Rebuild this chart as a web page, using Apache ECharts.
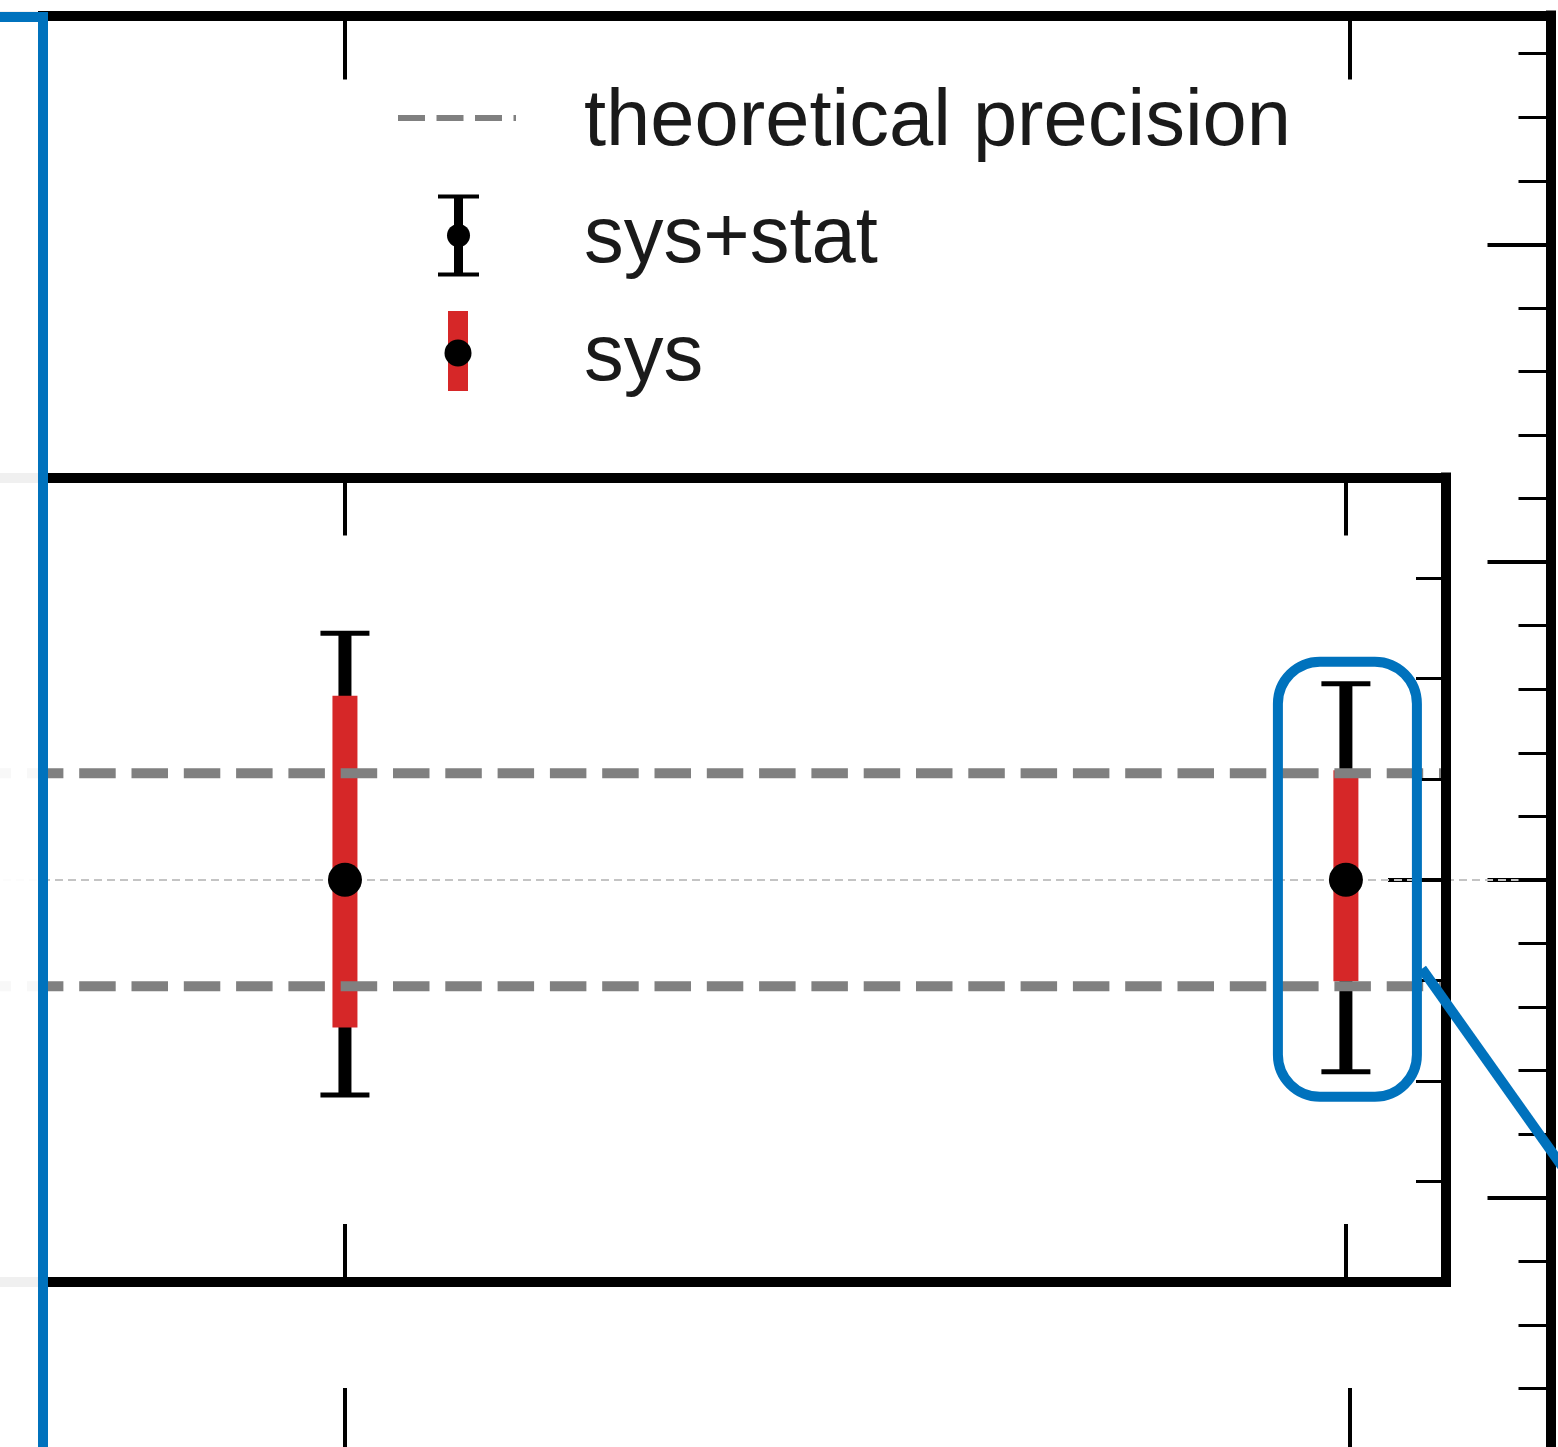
<!DOCTYPE html>
<html>
<head>
<meta charset="utf-8">
<script src="https://cdn.jsdelivr.net/npm/echarts@6/dist/echarts.min.js"></script>
<style>
  html, body { margin: 0; padding: 0; background: #fff; }
  #chart { width: 1558px; height: 1447px; }
</style>
</head>
<body>
<div id="chart"></div>
<script>
// ---- measurements shown in the inner panel ----
const pointX    = [1, 2];
const central   = [0, 0];
const totalUp   = [2.45, 1.95];   // sys+stat, upward extent
const totalDown = [2.14, 1.91];   // sys+stat, downward extent
const sysUp     = [1.83, 1.09];   // sys only, upward extent
const sysDown   = [1.47, 1.01];   // sys only, downward extent
const theoryBand = [1.06, -1.06]; // theoretical precision band

// ---- axis ranges and tick steps ----
const innerXRange = [0, 2.1];
const innerYRange = [-4, 4];
const outerXRange = [0, 2.2];
const outerYRange = [-9, 13.6];
const xTickStep = 1;
const innerMinorStep = 1, innerMajorStep = 4;
const outerMinorStep = 1, outerMajorSplit = 4;

const legendNames = ['theoretical precision', 'sys+stat', 'sys'];

const BLUE = '#0072BD';
const RED = '#D62728';
const DASH_GREY = '#808080';

const rows = pointX.map((x, i) => [x, central[i], totalUp[i], totalDown[i], sysUp[i], sysDown[i]]);

// legend icons: 118 x 94 cell, glyph sits slightly above the text's middle
function svgIcon(body) {
  const svg = "<svg xmlns='http://www.w3.org/2000/svg' width='118' height='94' viewBox='0 0 118 94'>" + body + "</svg>";
  return 'image://data:image/svg+xml;charset=utf-8,' + encodeURIComponent(svg);
}
const dashIcon = svgIcon(
  "<line x1='0' y1='42' x2='118' y2='42' stroke='" + DASH_GREY + "' stroke-width='6' stroke-dasharray='27 11.5'/>");
const errIcon = svgIcon(
  "<rect x='40' y='1' width='41' height='4' fill='#000'/>" +
  "<rect x='40' y='79' width='41' height='4' fill='#000'/>" +
  "<rect x='56' y='3' width='9' height='78' fill='#000'/>" +
  "<circle cx='60.5' cy='42' r='11.5' fill='#000'/>");
const sysIcon = svgIcon(
  "<rect x='50' y='0' width='20' height='80' fill='" + RED + "'/>" +
  "<circle cx='60' cy='42' r='13.5' fill='#000'/>");

// one axis: frame line (optional) + inward ticks, no labels
function frameAxis(o) {
  const ax = {
    type: 'value', gridIndex: o.grid, position: o.pos, min: o.range[0], max: o.range[1],
    z: o.z,
    axisLine: { show: !!o.line, onZero: false,
                lineStyle: { color: '#000', width: 10, cap: 'square' } },
    axisLabel: { show: false },
    splitLine: { show: false },
    axisTick: { show: true, inside: true, length: o.len,
                lineStyle: { color: '#000', width: o.w } }
  };
  if (o.interval != null) ax.interval = o.interval;
  if (o.split != null) ax.splitNumber = o.split;
  return ax;
}

const chart = echarts.init(document.getElementById('chart'), null, { renderer: 'canvas' });

const option = {
  animation: false,
  backgroundColor: '#fff',
  grid: [
    { left: -660, top: 15.5, width: 2210.5, height: 1436.5, show: false, outerBoundsMode: 'none' },
    { left: -656, top: 477.5, width: 2102, height: 804.5, show: false, outerBoundsMode: 'none' }
  ],
  xAxis: [
    frameAxis({ grid: 0, pos: 'top',    range: outerXRange, interval: xTickStep, len: 64, w: 4, line: true, z: 8 }),
    frameAxis({ grid: 0, pos: 'bottom', range: outerXRange, interval: xTickStep, len: 64, w: 4, line: true, z: 8 }),
    frameAxis({ grid: 1, pos: 'top',    range: innerXRange, interval: xTickStep, len: 58, w: 4, line: true, z: 8 }),
    frameAxis({ grid: 1, pos: 'bottom', range: innerXRange, interval: xTickStep, len: 58, w: 4, line: true, z: 8 })
  ],
  yAxis: [
    frameAxis({ grid: 0, pos: 'right', range: outerYRange, interval: outerMinorStep, len: 32, w: 3, line: true, z: 8 }),
    frameAxis({ grid: 0, pos: 'right', range: outerYRange, split: outerMajorSplit, len: 63, w: 4, line: false, z: 2 }),
    frameAxis({ grid: 1, pos: 'right', range: innerYRange, interval: innerMinorStep, len: 30, w: 3, line: true, z: 8 }),
    frameAxis({ grid: 1, pos: 'right', range: innerYRange, interval: innerMajorStep, len: 58, w: 4, line: false, z: 2 })
  ],
  legend: {
    orient: 'vertical',
    left: 398, top: 76, padding: 0,
    itemWidth: 118, itemHeight: 94, itemGap: 23.5,
    selectedMode: false,
    textStyle: { fontFamily: 'Liberation Sans, Arial, sans-serif', fontSize: 79.5,
                 color: '#1a1a1a', lineHeight: 84, padding: [0, 0, 0, 63] },
    data: [
      { name: legendNames[0], icon: dashIcon },
      { name: legendNames[1], icon: errIcon },
      { name: legendNames[2], icon: sysIcon }
    ]
  },
  series: [
    // thin reference line through the central value
    { type: 'line', xAxisIndex: 0, yAxisIndex: 0, z: 3, silent: true, symbol: 'none',
      data: [[outerXRange[0], central[0]], [outerXRange[1], central[0]]],
      lineStyle: { color: '#c4c4c4', width: 2, type: [8, 5] } },
    // theoretical precision band edges
    ...theoryBand.map(v => ({
      name: legendNames[0], type: 'line', xAxisIndex: 2, yAxisIndex: 2, z: 6, silent: true,
      symbol: 'none', data: [[innerXRange[0], v], [innerXRange[1], v]],
      itemStyle: { color: DASH_GREY },
      lineStyle: { color: DASH_GREY, width: 10, type: [36.5, 15.8], dashOffset: -3, cap: 'butt' }
    })),
    // sys+stat error bars
    { name: legendNames[1], type: 'custom', xAxisIndex: 2, yAxisIndex: 2, z: 4,
      itemStyle: { color: '#000' },
      encode: { x: 0, y: 1 }, data: rows,
      renderItem(params, api) {
        const x = api.value(0), c = api.value(1);
        const cx = api.coord([x, c])[0];
        const yHi = api.coord([x, c + api.value(2)])[1];
        const yLo = api.coord([x, c - api.value(3)])[1];
        return { type: 'group', children: [
          { type: 'rect', shape: { x: cx - 6.5, y: yHi, width: 13, height: yLo - yHi }, style: { fill: '#000' } },
          { type: 'rect', shape: { x: cx - 24.5, y: yHi - 2.5, width: 49, height: 5 }, style: { fill: '#000' } },
          { type: 'rect', shape: { x: cx - 24.5, y: yLo - 2.5, width: 49, height: 5 }, style: { fill: '#000' } }
        ] };
      } },
    // sys error bars with central point
    { name: legendNames[2], type: 'custom', xAxisIndex: 2, yAxisIndex: 2, z: 5,
      itemStyle: { color: RED },
      encode: { x: 0, y: 1 }, data: rows,
      renderItem(params, api) {
        const x = api.value(0), c = api.value(1);
        const p = api.coord([x, c]);
        const yHi = api.coord([x, c + api.value(4)])[1];
        const yLo = api.coord([x, c - api.value(5)])[1];
        return { type: 'group', children: [
          { type: 'rect', shape: { x: p[0] - 12.5, y: yHi, width: 25, height: yLo - yHi }, style: { fill: RED } },
          { type: 'circle', shape: { cx: p[0], cy: p[1], r: 17 }, style: { fill: '#000' } }
        ] };
      } }
  ]
};
chart.setOption(option);

// Highlight box around the second measurement and the zoom frame decorations
const toPx = v => chart.convertToPixel({ xAxisIndex: 2, yAxisIndex: 2 }, v);
const top2 = toPx([pointX[1], central[1] + totalUp[1]]);
const bot2 = toPx([pointX[1], central[1] - totalDown[1]]);
const mid2 = toPx([pointX[1], central[1]]);
const boxL = top2[0] - 68, boxR = top2[0] + 71;
const boxT = top2[1] - 22, boxB = bot2[1] + 25;
const linkX = boxR + 5, linkY = mid2[1] + 89;

chart.setOption({
  graphic: [
    { type: 'rect', z: 50, silent: true,
      shape: { x: 0, y: 0, width: 38, height: 1447 },
      style: { fill: 'rgba(255,255,255,0.94)' } },
    { type: 'polyline', z: 60, silent: true,
      shape: { points: [[-10, 17], [43, 17], [43, 1500]] },
      style: { stroke: BLUE, lineWidth: 10, fill: null, lineJoin: 'miter' } },
    { type: 'rect', z: 60, silent: true,
      shape: { x: boxL, y: boxT, width: boxR - boxL, height: boxB - boxT, r: 42 },
      style: { stroke: BLUE, lineWidth: 10, fill: null } },
    { type: 'line', z: 60, silent: true,
      shape: { x1: linkX, y1: linkY, x2: linkX + 200, y2: linkY + 282 },
      style: { stroke: BLUE, lineWidth: 10, lineCap: 'butt' } }
  ]
});
</script>
</body>
</html>
